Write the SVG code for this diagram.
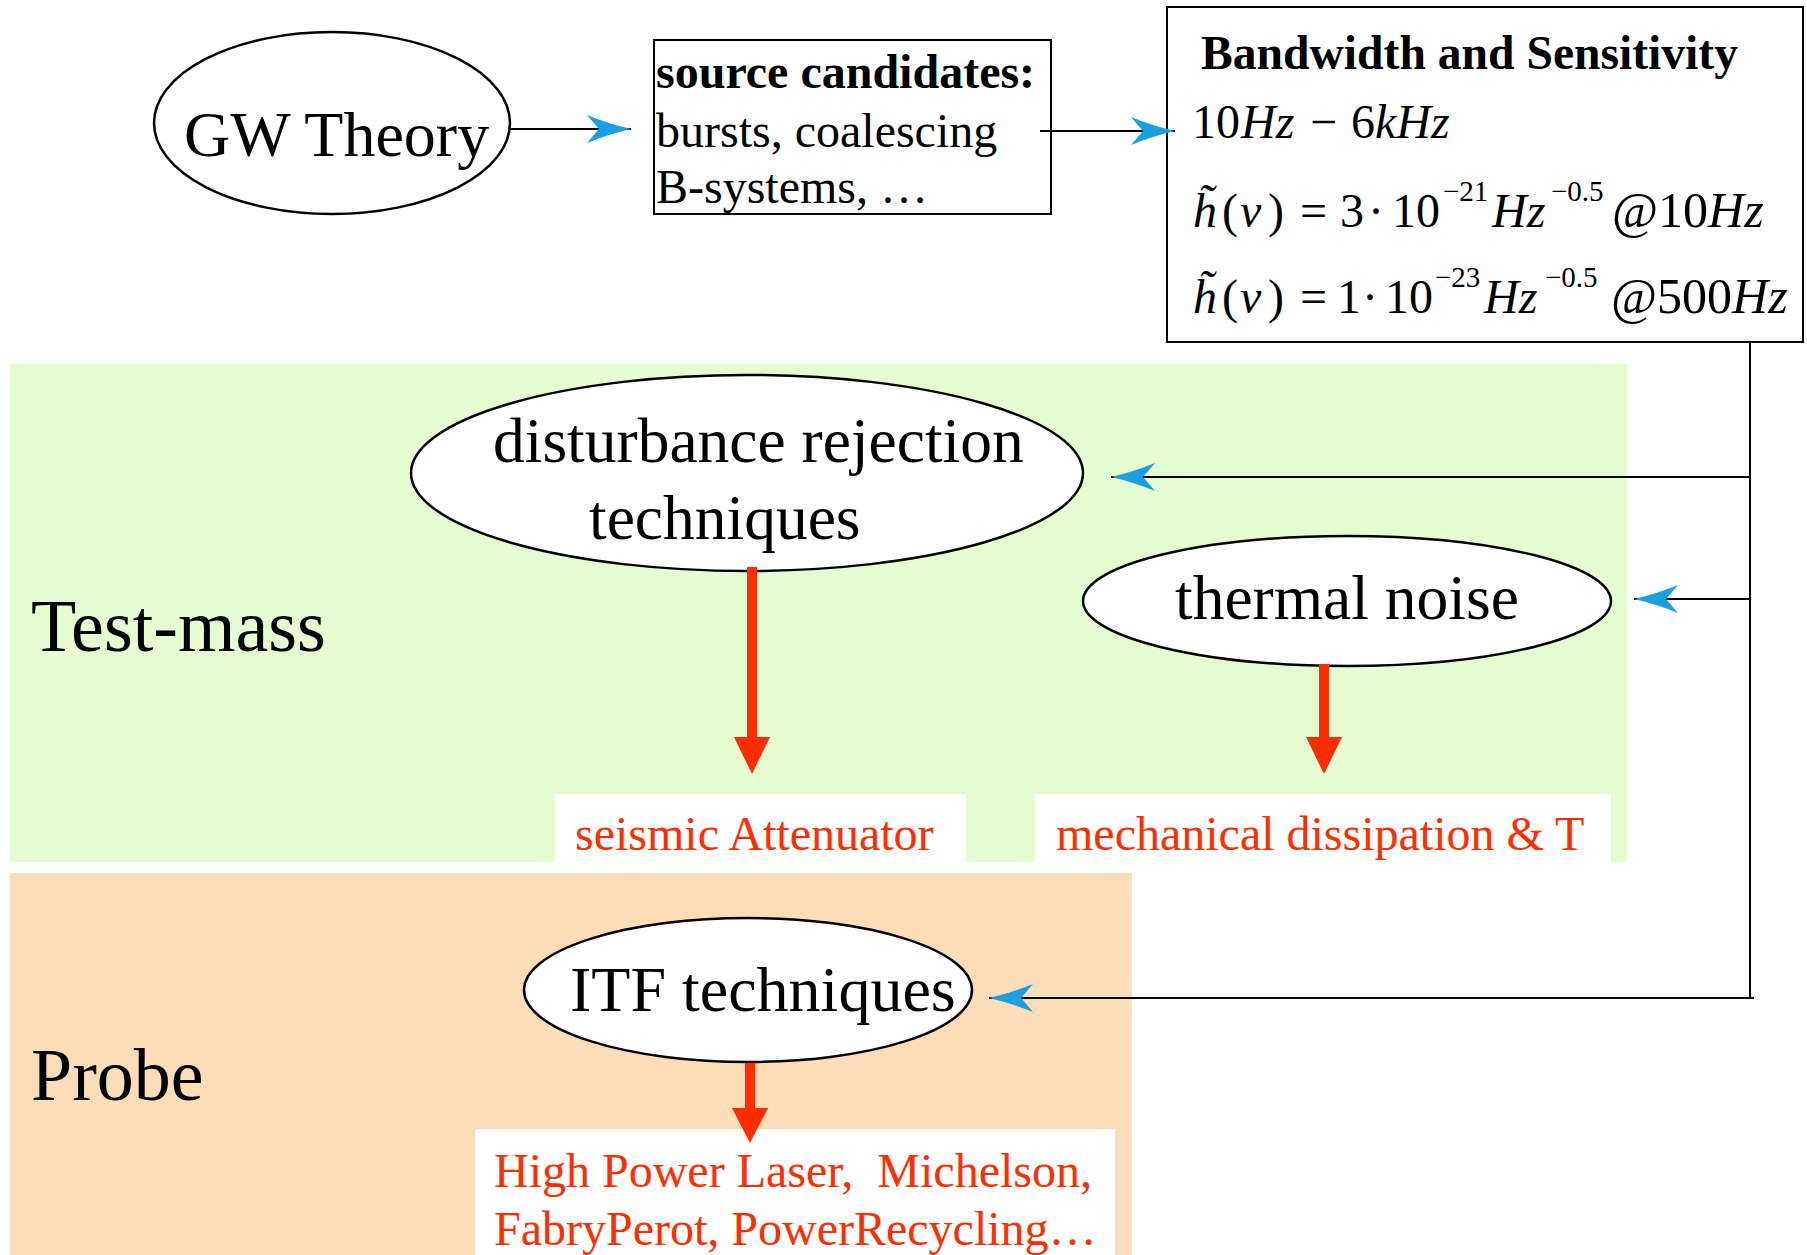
<svg xmlns="http://www.w3.org/2000/svg" width="1807" height="1255" viewBox="0 0 1807 1255">
  <style>
    .node { fill: #ffffff; stroke: #000000; stroke-width: 2.5; }
    .box { fill: #ffffff; stroke: #000000; stroke-width: 2; }
    .lbl { font-family: "Liberation Serif", "Times New Roman", serif; fill: #000000; }
    .out { font-family: "Liberation Serif", "Times New Roman", serif; fill: #ff2d00; font-size: 48px; }
    .wire { fill: none; stroke: #000000; stroke-width: 2; }
    .red { fill: #ff2d00; }
    .it { font-style: italic; }
    .sup { font-size: 29px; }
  </style>
  <defs>
    <marker id="blue-head" viewBox="-46 -16 48 32" refX="0" refY="0" markerWidth="48" markerHeight="32" markerUnits="userSpaceOnUse" orient="auto">
      <path d="M0,0 Q-22,-5 -44,-14 L-32,0 L-44,14 Q-22,5 0,0 Z" fill="#1a9fe0"/>
    </marker>
  </defs>

  <rect width="1807" height="1255" fill="#ffffff"/>

  <!-- background bands -->
  <rect id="band-testmass" x="10" y="364" width="1617" height="498" fill="#e5fbd0"/>
  <rect id="band-probe" x="10" y="873" width="1122" height="382" fill="#fddcb8"/>
  <text class="lbl" x="31" y="651" font-size="74">Test-mass</text>
  <text class="lbl" x="31" y="1100" font-size="74">Probe</text>

  <!-- GW Theory -->
  <g id="gw-theory">
    <ellipse class="node" cx="332" cy="123" rx="178" ry="91"/>
    <text class="lbl" x="184" y="156" font-size="64">GW Theory</text>
  </g>

  <!-- source candidates -->
  <g id="source-candidates">
    <rect class="box" x="654" y="40" width="397" height="174"/>
    <text class="lbl" font-size="48">
      <tspan x="656" y="88" font-weight="bold">source candidates:</tspan>
      <tspan x="656" y="147">bursts, coalescing</tspan>
      <tspan x="656" y="203">B-systems, …</tspan>
    </text>
  </g>

  <!-- bandwidth and sensitivity -->
  <g id="bandwidth">
    <rect class="box" x="1167" y="7" width="636" height="335"/>
    <text class="lbl" x="1201" y="69" font-size="48" font-weight="bold" textLength="537" lengthAdjust="spacingAndGlyphs">Bandwidth and Sensitivity</text>
    <text class="lbl" font-size="48" y="138">
      <tspan x="1192">10</tspan><tspan x="1241" class="it">Hz</tspan><tspan x="1310">−</tspan><tspan x="1351">6</tspan><tspan x="1375" class="it">kHz</tspan>
    </text>
    <text class="lbl" font-size="48" y="227">
      <tspan x="1193" class="it">h̃</tspan><tspan x="1222">(</tspan><tspan x="1240" class="it">ν</tspan><tspan x="1268">)</tspan><tspan x="1300">=</tspan><tspan x="1340">3</tspan><tspan x="1368">·</tspan><tspan x="1392">10</tspan><tspan x="1443" y="201" class="sup">−21</tspan><tspan x="1492" y="227" class="it">Hz</tspan><tspan x="1551" y="201" class="sup">−0.5</tspan><tspan x="1612" y="227" font-size="50">@10</tspan><tspan class="it" font-size="50">Hz</tspan>
    </text>
    <text class="lbl" font-size="48" y="313">
      <tspan x="1193" class="it">h̃</tspan><tspan x="1222">(</tspan><tspan x="1240" class="it">ν</tspan><tspan x="1268">)</tspan><tspan x="1300">=</tspan><tspan x="1337">1</tspan><tspan x="1362">·</tspan><tspan x="1385">10</tspan><tspan x="1435" y="287" class="sup">−23</tspan><tspan x="1484" y="313" class="it">Hz</tspan><tspan x="1545" y="287" class="sup">−0.5</tspan><tspan x="1611" y="313" font-size="50">@500</tspan><tspan class="it" font-size="50">Hz</tspan>
    </text>
  </g>

  <!-- disturbance rejection techniques -->
  <g id="disturbance-rejection">
    <ellipse class="node" cx="747" cy="473" rx="336" ry="98"/>
    <text class="lbl" x="493" y="462" font-size="63.5">disturbance rejection</text>
    <text class="lbl" x="589" y="539" font-size="63.5">techniques</text>
  </g>

  <!-- thermal noise -->
  <g id="thermal-noise">
    <ellipse class="node" cx="1347" cy="601" rx="264" ry="65"/>
    <text class="lbl" x="1175" y="619" font-size="63.5">thermal noise</text>
  </g>

  <!-- seismic attenuator -->
  <g id="seismic-attenuator">
    <rect x="555" y="794" width="411" height="68" fill="#ffffff"/>
    <text class="out" x="575" y="850">seismic Attenuator</text>
  </g>

  <!-- mechanical dissipation -->
  <g id="mechanical-dissipation">
    <rect x="1035" y="794" width="576" height="68" fill="#ffffff"/>
    <text class="out" x="1056" y="850">mechanical dissipation &amp; T</text>
  </g>

  <!-- ITF techniques -->
  <g id="itf-techniques">
    <ellipse class="node" cx="748" cy="990" rx="224" ry="72"/>
    <text class="lbl" x="570" y="1011" font-size="64">ITF techniques</text>
  </g>

  <!-- ITF outputs -->
  <g id="itf-outputs">
    <rect x="475" y="1129" width="640" height="126" fill="#ffffff"/>
    <text class="out" xml:space="preserve"><tspan x="494" y="1187">High Power Laser,  Michelson,</tspan><tspan x="494" y="1245">FabryPerot, PowerRecycling…</tspan></text>
  </g>

  <!-- connectors, drawn on top of the nodes -->
  <g id="connectors">
    <line class="wire" x1="510" y1="129" x2="631" y2="129" marker-end="url(#blue-head)"/>
    <line class="wire" x1="1040" y1="131" x2="1175" y2="131" marker-end="url(#blue-head)"/>
    <line class="wire" x1="1750" y1="342" x2="1750" y2="999"/>
    <line class="wire" x1="1750" y1="477" x2="1111" y2="477" marker-end="url(#blue-head)"/>
    <line class="wire" x1="1750" y1="599" x2="1634" y2="599" marker-end="url(#blue-head)"/>
    <line class="wire" x1="1754" y1="998" x2="989" y2="998" marker-end="url(#blue-head)"/>
    <!-- thick red arrows -->
    <rect class="red" x="747" y="567" width="10" height="172"/>
    <polygon class="red" points="734,737 770,737 752,774"/>
    <rect class="red" x="1319" y="664" width="10" height="75"/>
    <polygon class="red" points="1306,737 1342,737 1324,774"/>
    <rect class="red" x="745" y="1063" width="10" height="47"/>
    <polygon class="red" points="732,1108 768,1108 750,1143"/>
  </g>
</svg>
